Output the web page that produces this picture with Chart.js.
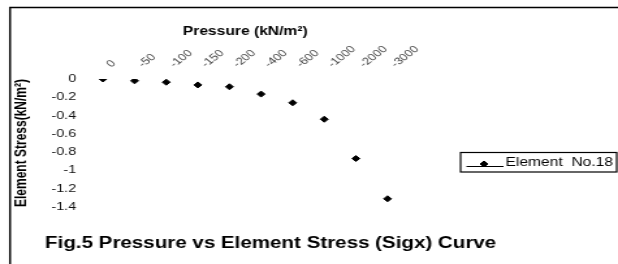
<!DOCTYPE html>
<html>
<head>
<meta charset="utf-8">
<script src="https://cdn.jsdelivr.net/npm/chart.js@4"></script>
<style>
  html, body { margin: 0; padding: 0; background: #fff; overflow: hidden; }
  /* the original figure is stretched sideways, so draw narrow and widen it */
  #wrap { width: 475px; height: 264px; transform: scaleX(1.30105); transform-origin: 0 0; }
</style>
</head>
<body>
<div id="wrap"><canvas id="stressChart" width="475" height="264"></canvas></div>
<script>
// Data
const pressureLabels = ['0', '-50', '-100', '-150', '-200', '-400', '-600', '-1000', '-2000', '-3000'];
const element18Stress = [0, -0.02, -0.035, -0.065, -0.085, -0.165, -0.26, -0.44, -0.87, -1.31];
const yTickValues = [0, -0.2, -0.4, -0.6, -0.8, -1, -1.2, -1.4];
const yTickLabels = ['0', '-0.2', '-0.4', '-0.6', '-0.8', '-1', '-1.2', '-1.4'];

const seriesName = 'Element  No.18';
const captionText = 'Fig.5 Pressure vs Element Stress (Sigx) Curve';
const fontFamily = '"Liberation Sans", Arial, sans-serif';

// Frame, boxed legend and caption drawn on top
const decorPlugin = {
    id: 'decor',
    afterDraw(chart) {
        const ctx = chart.ctx;
        ctx.save();
        ctx.strokeStyle = '#000';
        ctx.fillStyle = '#000';

        // outer frame (only left and top show)
        ctx.lineWidth = 1.5;
        ctx.beginPath();
        ctx.moveTo(7.7, 300);
        ctx.lineTo(7.7, 7.5);
        ctx.lineTo(500, 7.5);
        ctx.stroke();

        // legend box
        ctx.lineWidth = 1.2;
        ctx.strokeRect(354, 152.5, 120, 19.5);
        ctx.lineWidth = 1;
        ctx.beginPath();
        ctx.moveTo(358.5, 166.5);
        ctx.lineTo(387, 166.5);
        ctx.stroke();
        Chart.helpers.drawPoint(ctx, { pointStyle: 'rectRot', radius: 3, borderWidth: 1, rotation: 0 }, 372, 164);
        ctx.font = '12px ' + fontFamily;
        ctx.textBaseline = 'middle';
        ctx.textAlign = 'left';
        ctx.fillText(chart.data.datasets[0].label, 388.5, 162.5);

        // caption
        ctx.font = 'bold 15.8px ' + fontFamily;
        ctx.textBaseline = 'alphabetic';
        ctx.fillText(captionText, 34.6, 248);
        ctx.restore();
    }
};

const config = {
    type: 'line',
    data: {
        labels: pressureLabels,
        datasets: [{
            label: seriesName,
            data: element18Stress,
            showLine: false,
            pointStyle: 'rectRot',
            pointRadius: 3,
            pointHoverRadius: 3,
            pointBackgroundColor: '#000',
            pointBorderColor: '#000',
            pointBorderWidth: 1,
            borderColor: '#000'
        }]
    },
    options: {
        responsive: false,
        animation: false,
        devicePixelRatio: 1,
        layout: {
            padding: { top: 0, left: 0, right: 165, bottom: 57 }
        },
        plugins: {
            legend: { display: false },
            tooltip: { enabled: false }
        },
        scales: {
            x: {
                position: 'top',
                offset: true,
                grid: { display: false, drawTicks: false },
                border: { display: false },
                ticks: {
                    autoSkip: false,
                    minRotation: 45,
                    maxRotation: 45,
                    padding: 9,
                    labelOffset: 13,
                    color: '#444',
                    font: { family: fontFamily, size: 10 }
                },
                title: {
                    display: true,
                    text: 'Pressure (kN/m²)',
                    color: '#000',
                    padding: { top: 24, bottom: 0 },
                    font: { family: fontFamily, size: 12, weight: 'bold' }
                },
                afterFit: function(scale) {
                    scale.height = 79;
                }
            },
            y: {
                min: -1.4,
                max: 0,
                grid: { display: false, drawTicks: false },
                border: { display: false },
                afterBuildTicks: function(scale) {
                    scale.ticks = yTickValues.map(v => ({ value: v }));
                },
                ticks: {
                    padding: 8.5,
                    color: '#111',
                    font: { family: fontFamily, size: 11 },
                    callback: function(value, index) {
                        return yTickLabels[index];
                    }
                },
                title: {
                    display: true,
                    text: 'Element Stress(kN/m²)',
                    color: '#000',
                    padding: { top: 9.5, bottom: 0 },
                    font: { family: fontFamily, size: 12, weight: 'bold' }
                },
                afterFit: function(scale) {
                    scale.width = 67;
                }
            }
        }
    },
    plugins: [decorPlugin]
};

const stressChart = new Chart(document.getElementById('stressChart'), config);
</script>
</body>
</html>
